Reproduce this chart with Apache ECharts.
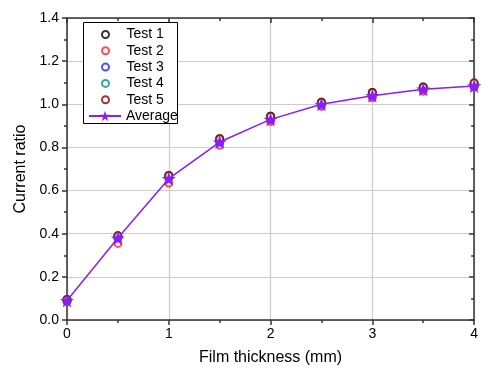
<!DOCTYPE html>
<html>
<head>
<meta charset="utf-8">
<script src="https://cdn.jsdelivr.net/npm/echarts@6/dist/echarts.min.js"></script>
<style>
  html, body { margin: 0; padding: 0; background: #fff; }
  #chart { width: 481px; height: 376px; }
</style>
</head>
<body>
<div id="chart"></div>
<script>
// Film thickness (mm)
var thickness = [0, 0.5, 1, 1.5, 2, 2.5, 3, 3.5, 4];
// Current ratio measured in each test
var test1 = [0.095, 0.39, 0.67, 0.84, 0.945, 1.01, 1.055, 1.08, 1.095];
var test2 = [0.085, 0.355, 0.635, 0.81, 0.92, 0.99, 1.03, 1.06, 1.08];
var test3 = [0.09, 0.38, 0.66, 0.825, 0.93, 1.0, 1.04, 1.07, 1.085];
var test4 = [0.09, 0.385, 0.665, 0.83, 0.935, 1.005, 1.045, 1.075, 1.09];
var test5 = [0.095, 0.39, 0.67, 0.84, 0.945, 1.01, 1.055, 1.08, 1.1];
var average = [0.09, 0.38, 0.655, 0.825, 0.93, 1.0, 1.04, 1.07, 1.085];

var seriesNames = ['Test 1', 'Test 2', 'Test 3', 'Test 4', 'Test 5', 'Average'];
var seriesColors = ['#000000', '#ff2020', '#2020ff', '#008b8b', '#8b0000', '#8a1cff'];

function pairs(ys) {
  return thickness.map(function (x, i) { return [x, ys[i]]; });
}

var font = 'Liberation Sans, Arial, sans-serif';
var starPath = 'path://M50,0 L61.8,35.5 L99.2,35.5 L68.9,57.4 L80.4,92.7 L50,70.8 L19.6,92.7 L31.1,57.4 L0.8,35.5 L38.2,35.5 Z';

function testSeries(name, ys, color) {
  return {
    name: name,
    type: 'scatter',
    data: pairs(ys),
    symbol: 'emptyCircle',
    symbolSize: 7,
    itemStyle: { color: color, borderColor: color, borderWidth: 1 },
    z: 2
  };
}

var axisLineStyle = { color: '#333', width: 1.5 };
var legendText = { fontSize: 14, color: '#000', fontFamily: font };

var chart = echarts.init(document.getElementById('chart'));
chart.setOption({
  animation: false,
  backgroundColor: '#ffffff',
  textStyle: { fontFamily: font },
  grid: { left: 67, right: 4, top: 18, bottom: 56, containLabel: false },
  // legend frame
  graphic: [{
    type: 'rect',
    left: 83, top: 22,
    shape: { width: 94, height: 101 },
    style: { fill: '#fff', stroke: '#000', lineWidth: 1 },
    z: 90
  }],
  legend: [{
    // circle icons only: the box aligns to the icon's own bounds
    orient: 'vertical',
    left: 101,
    top: 27.5,
    data: seriesNames.slice(0, 5),
    itemWidth: 32,
    itemHeight: 7,
    itemGap: 2.3,
    padding: 0,
    textStyle: legendText,
    z: 100
  }, {
    orient: 'vertical',
    left: 88,
    top: 109,
    data: [seriesNames[5]],
    itemWidth: 32,
    itemHeight: 13,
    padding: 0,
    textStyle: legendText,
    z: 100
  }],
  xAxis: [{
    type: 'value',
    min: 0, max: 4, interval: 1,
    name: 'Film thickness (mm)',
    nameLocation: 'middle',
    nameGap: 30,
    nameTextStyle: { fontSize: 16, color: '#000', fontFamily: font },
    axisLine: { show: true, onZero: false, lineStyle: axisLineStyle },
    axisTick: { show: true, inside: false, length: 5, lineStyle: axisLineStyle },
    minorTick: { show: true, splitNumber: 2, length: 3, lineStyle: axisLineStyle },
    axisLabel: { fontSize: 14, color: '#000', margin: 7, fontFamily: font },
    splitLine: { show: true, lineStyle: { color: '#cccccc', width: 1.2 } }
  }, {
    type: 'value',
    position: 'top',
    min: 0, max: 4, interval: 1,
    axisLine: { show: true, onZero: false, lineStyle: axisLineStyle },
    axisTick: { show: true, inside: true, length: 5, lineStyle: axisLineStyle },
    minorTick: { show: true, splitNumber: 2, length: 3, lineStyle: axisLineStyle },
    axisLabel: { show: false },
    splitLine: { show: false }
  }],
  yAxis: [{
    type: 'value',
    min: 0, max: 1.4, interval: 0.2,
    name: 'Current ratio',
    nameLocation: 'middle',
    nameGap: 38,
    nameRotate: 90,
    nameTextStyle: { fontSize: 16, color: '#000', fontFamily: font },
    axisLine: { show: true, onZero: false, lineStyle: axisLineStyle },
    axisTick: { show: true, inside: false, length: 5, lineStyle: axisLineStyle },
    minorTick: { show: true, splitNumber: 2, length: 3, lineStyle: axisLineStyle },
    axisLabel: {
      fontSize: 14, color: '#000', margin: 8, fontFamily: font,
      formatter: function (v) { return v.toFixed(1); }
    },
    splitLine: { show: true, lineStyle: { color: '#cccccc', width: 1.2 } }
  }, {
    type: 'value',
    position: 'right',
    min: 0, max: 1.4, interval: 0.2,
    axisLine: { show: true, onZero: false, lineStyle: axisLineStyle },
    axisTick: { show: true, inside: true, length: 5, lineStyle: axisLineStyle },
    minorTick: { show: true, splitNumber: 2, length: 3, lineStyle: axisLineStyle },
    axisLabel: { show: false },
    splitLine: { show: false }
  }],
  series: [
    testSeries(seriesNames[0], test1, seriesColors[0]),
    testSeries(seriesNames[1], test2, seriesColors[1]),
    testSeries(seriesNames[2], test3, seriesColors[2]),
    testSeries(seriesNames[3], test4, seriesColors[3]),
    testSeries(seriesNames[4], test5, seriesColors[4]),
    {
      name: seriesNames[5],
      type: 'line',
      data: pairs(average),
      symbol: starPath,
      symbolSize: 14,
      showAllSymbol: true,
      lineStyle: { color: seriesColors[5], width: 1.5 },
      itemStyle: { color: seriesColors[5], borderWidth: 0 },
      z: 3
    }
  ]
});
</script>
</body>
</html>
